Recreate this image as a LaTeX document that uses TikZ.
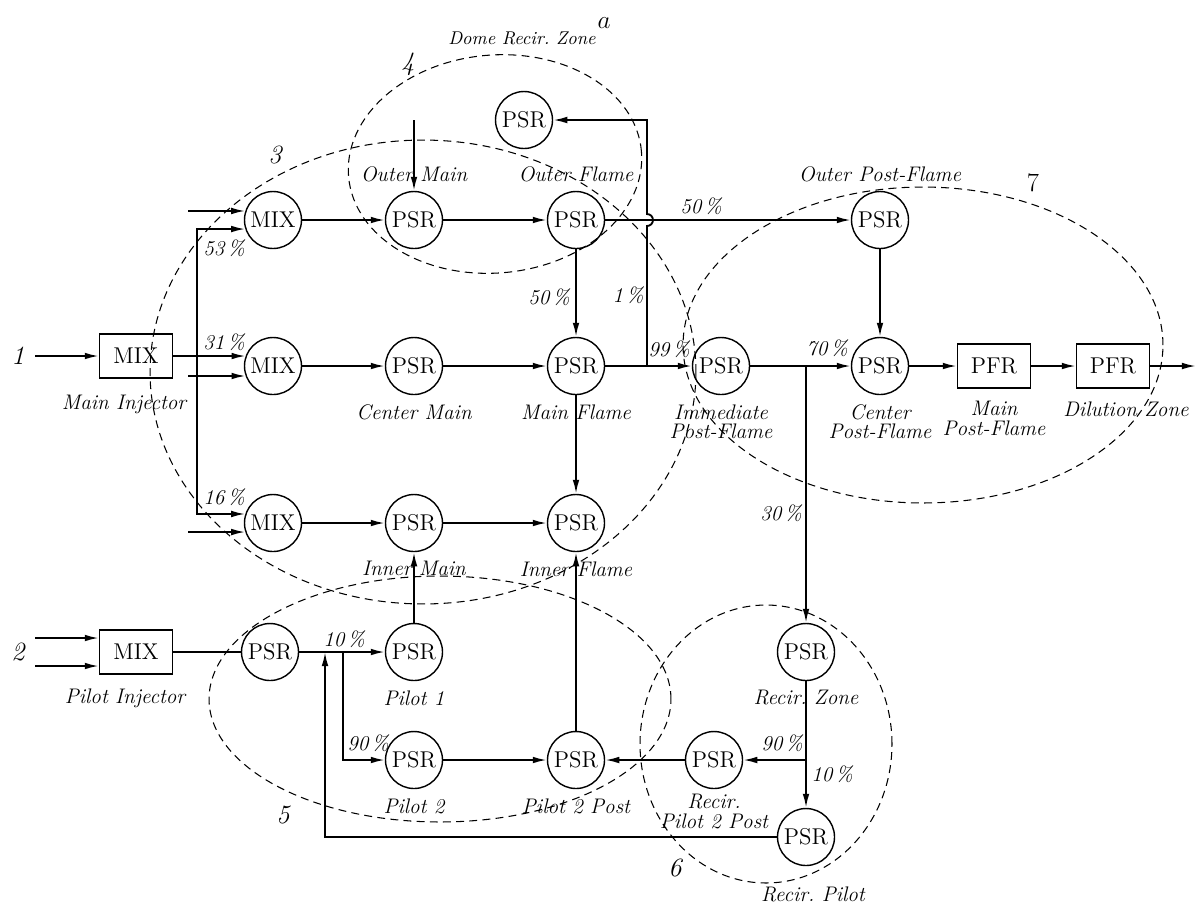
\documentclass[tikz,border=0pt]{standalone}
\usepackage{tikz}
\usetikzlibrary{arrows.meta,positioning}

\begin{document}
\begin{tikzpicture}[
  x=0.02cm, y=-0.02cm,
  node distance=0.18cm,
  >={Latex[length=8pt,width=3.8pt]},
  reactor/.style={draw,circle,line width=0.8pt,minimum size=1.14cm,inner sep=0pt,font=\fontsize{13}{15}\selectfont},
  pfr/.style={draw,rectangle,line width=0.8pt,minimum width=1.46cm,minimum height=0.88cm,inner sep=0pt,font=\fontsize{13}{15}\selectfont},
  lbl/.style={inner sep=0pt,align=center,font=\fontsize{12}{11}\selectfont\itshape},
  pct/.style={inner sep=0pt,font=\fontsize{12}{14}\selectfont\itshape},
  znum/.style={inner sep=0pt,font=\fontsize{15}{17}\selectfont\itshape},
  zone/.style={dash pattern=on 4.5pt off 3pt,line width=0.6pt},
  flow/.style={->,line width=1.05pt},
  pipe/.style={line width=1.05pt}
]
  \useasboundingbox (0,0) rectangle (1199,907);

  % injectors
  \node[pfr] (mixMain) at (136,356) {MIX};
  \node[pfr] (mixPilot) at (136,652) {MIX};
  % main stage
  \node[reactor] (mixO) at (273,220) {MIX};
  \node[reactor] (mixC) at (273,366) {MIX};
  \node[reactor] (mixI) at (273,523) {MIX};
  \node[reactor] (psrOM) at (414,220) {PSR};
  \node[reactor] (psrCM) at (414,366) {PSR};
  \node[reactor] (psrIM) at (414,523) {PSR};
  \node[reactor] (psrOF) at (576,220) {PSR};
  \node[reactor] (psrMF) at (576,366) {PSR};
  \node[reactor] (psrIF) at (576,523) {PSR};
  \node[reactor] (psrDome) at (524,120) {PSR};
  % post-flame
  \node[reactor] (psrIPF) at (721,366) {PSR};
  \node[reactor] (psrOPF) at (880,220) {PSR};
  \node[reactor] (psrCPF) at (880,366) {PSR};
  \node[pfr] (pfrMain) at (994,366) {PFR};
  \node[pfr] (pfrDil) at (1113,366) {PFR};
  % pilot
  \node[reactor] (psrPil) at (270,652) {PSR};
  \node[reactor] (psrP1) at (414,652) {PSR};
  \node[reactor] (psrP2) at (414,760) {PSR};
  \node[reactor] (psrP2P) at (576,760) {PSR};
  % recirculation
  \node[reactor] (psrRZ) at (806,652) {PSR};
  \node[reactor] (psrRP2P) at (714,760) {PSR};
  \node[reactor] (psrRP) at (806,837) {PSR};

  % names
  \node[lbl,below=0.32cm of mixMain,xshift=-0.24cm] (lMain) {Main Injector};
  \node[lbl,below=0.28cm of mixPilot,xshift=-0.22cm] (lPilot) {Pilot Injector};
  \node[lbl,above=of psrOM] (lOM) {Outer Main};
  \node[lbl,above=of psrOF] (lOF) {Outer Flame};
  \node[lbl,above=of psrOPF] (lOPF) {Outer Post-Flame};
  \node[lbl,font=\fontsize{10.5}{11}\selectfont\itshape] (lDome) at (522,38) {Dome Recir.\ Zone};
  \node[lbl,below=of psrCM] (lCM) {Center Main};
  \node[lbl,below=of psrMF] (lMF) {Main Flame};
  \node[lbl,below=of psrIM] (lIM) {Inner Main};
  \node[lbl,below=of psrIF] (lIF) {Inner Flame};
  \node[lbl,below=of psrIPF] (lIPF) {Immediate\\Post-Flame};
  \node[lbl,below=of psrCPF] (lCPF) {Center\\Post-Flame};
  \node[lbl,below=0.25cm of pfrMain] (lPM) {Main\\Post-Flame};
  \node[lbl,below=0.25cm of pfrDil,xshift=0.26cm] (lDil) {Dilution Zone};
  \node[lbl,below=of psrP1] (lP1) {Pilot 1};
  \node[lbl,below=of psrP2] (lP2) {Pilot 2};
  \node[lbl,below=of psrP2P] (lP2P) {Pilot 2 Post};
  \node[lbl,below=of psrRZ] (lRZ) {Recir.\ Zone};
  \node[lbl,below=0.1cm of psrRP2P] (lRP2P) {Recir.\\Pilot 2 Post};
  \node[lbl,below=0.4cm of psrRP,xshift=0.14cm] (lRP) {Recir.\ Pilot};

  % main injector split
  \coordinate (in1) at (35,356);
  \coordinate (feed) at (188,366);
  \coordinate (spl) at (197,366);
  \draw[flow] (in1) -- (mixMain);
  \draw[flow] (mixMain) -- (mixC.160);
  \draw[pipe,<->] (mixO.198) -- (spl |- mixO.198) -- (spl |- mixI.162) -- (mixI.162);
  \draw[flow] (feed |- mixO.162) -- (mixO.162);
  \draw[flow] (feed |- mixC.200) -- (mixC.200);
  \draw[flow] (feed |- mixI.198) -- (mixI.198);

  % main stage
  \draw[flow] (mixO) -- (psrOM);
  \draw[flow] (psrOM) -- (psrOF);
  \draw[flow] (mixC) -- (psrCM);
  \draw[flow] (psrCM) -- (psrMF);
  \draw[flow] (mixI) -- (psrIM);
  \draw[flow] (psrIM) -- (psrIF);
  \draw[flow] (psrOM |- psrDome) -- (psrOM);
  \draw[flow] (psrOF) -- (psrMF);
  \draw[flow] (psrMF) -- (psrIF);
  \draw[flow] (psrOF) -- (psrOPF);
  \draw[flow] (psrMF) -- (psrIPF);
  \coordinate (jMF) at (647,366);
  \coordinate (hop) at (647,226);
  \draw[flow] (jMF) -- (hop) arc[start angle=-90,end angle=90,radius=0.12cm] -- (jMF |- psrDome) -- (psrDome);

  % post-flame
  \coordinate (jIPF) at (806,366);
  \coordinate (outR) at (1196,366);
  \draw[flow] (psrIPF) -- (psrCPF);
  \draw[flow] (jIPF) -- (psrRZ);
  \draw[flow] (psrOPF) -- (psrCPF);
  \draw[flow] (psrCPF) -- (pfrMain);
  \draw[flow] (pfrMain) -- (pfrDil);
  \draw[flow] (pfrDil) -- (outR);

  % recirculation
  \coordinate (jRZ) at (806,760);
  \coordinate (jRet) at (325,652);
  \draw[flow] (psrRZ) -- (psrRP);
  \draw[flow] (jRZ) -- (psrRP2P);
  \draw[flow] (psrRP2P) -- (psrP2P);
  \draw[flow] (psrP2P) -- (psrIF);
  \draw[flow] (psrRP) -| (jRet);

  % pilot
  \coordinate (inP1) at (35,638);
  \coordinate (inP2) at (35,666);
  \coordinate (jPil) at (343,652);
  \draw[flow] (inP1) -- (inP1 -| mixPilot.west);
  \draw[flow] (inP2) -- (inP2 -| mixPilot.west);
  \draw[pipe] (mixPilot) -- (psrPil);
  \draw[flow] (psrPil) -- (psrP1);
  \draw[flow] (jPil) |- (psrP2);
  \draw[flow] (psrP1) -- (psrIM);
  \draw[flow] (psrP2) -- (psrP2P);

  % split fractions
  \node[pct] (p53) at (224,248) {53\,\%};
  \node[pct] (p31) at (224,342) {31\,\%};
  \node[pct] (p16) at (224,497) {16\,\%};
  \node[pct] (p50a) at (549,297) {50\,\%};
  \node[pct] (p1) at (628,295) {1\,\%};
  \node[pct] (p50b) at (701,206) {50\,\%};
  \node[pct] (p99) at (669,349) {99\,\%};
  \node[pct] (p70) at (827,348) {70\,\%};
  \node[pct] (p30) at (781,513) {30\,\%};
  \node[pct] (p10a) at (344,639) {10\,\%};
  \node[pct] (p90a) at (368,743) {90\,\%};
  \node[pct] (p90b) at (782,743) {90\,\%};
  \node[pct] (p10b) at (832,774) {10\,\%};

  % zones
  \draw[zone] (423,372) ellipse [x radius=5.46cm,y radius=4.64cm];
  \draw[zone,rotate around={5:(495,164)}] (495,164) ellipse [x radius=2.94cm,y radius=2.18cm];
  \draw[zone] (440,699) ellipse [x radius=4.62cm,y radius=2.46cm];
  \draw[zone] (766,744) ellipse [x radius=2.52cm,y radius=2.78cm];
  \draw[zone] (923,345) ellipse [x radius=4.8cm,y radius=3.16cm];
  \node[znum] (z1) at (18,356) {1};
  \node[znum] (z2) at (18,652) {2};
  \node[znum] (z3) at (275,155) {3};
  \node[znum] (z4) at (408,64) {4};
  \node[znum] (z5) at (283,815) {5};
  \node[znum] (z6) at (675,868) {6};
  \node[znum,font=\fontsize{15}{17}\selectfont\upshape] (z7) at (1033,183) {7};
  \node[znum] (ttl) at (604,23) {$a$};
\end{tikzpicture}
\end{document}
